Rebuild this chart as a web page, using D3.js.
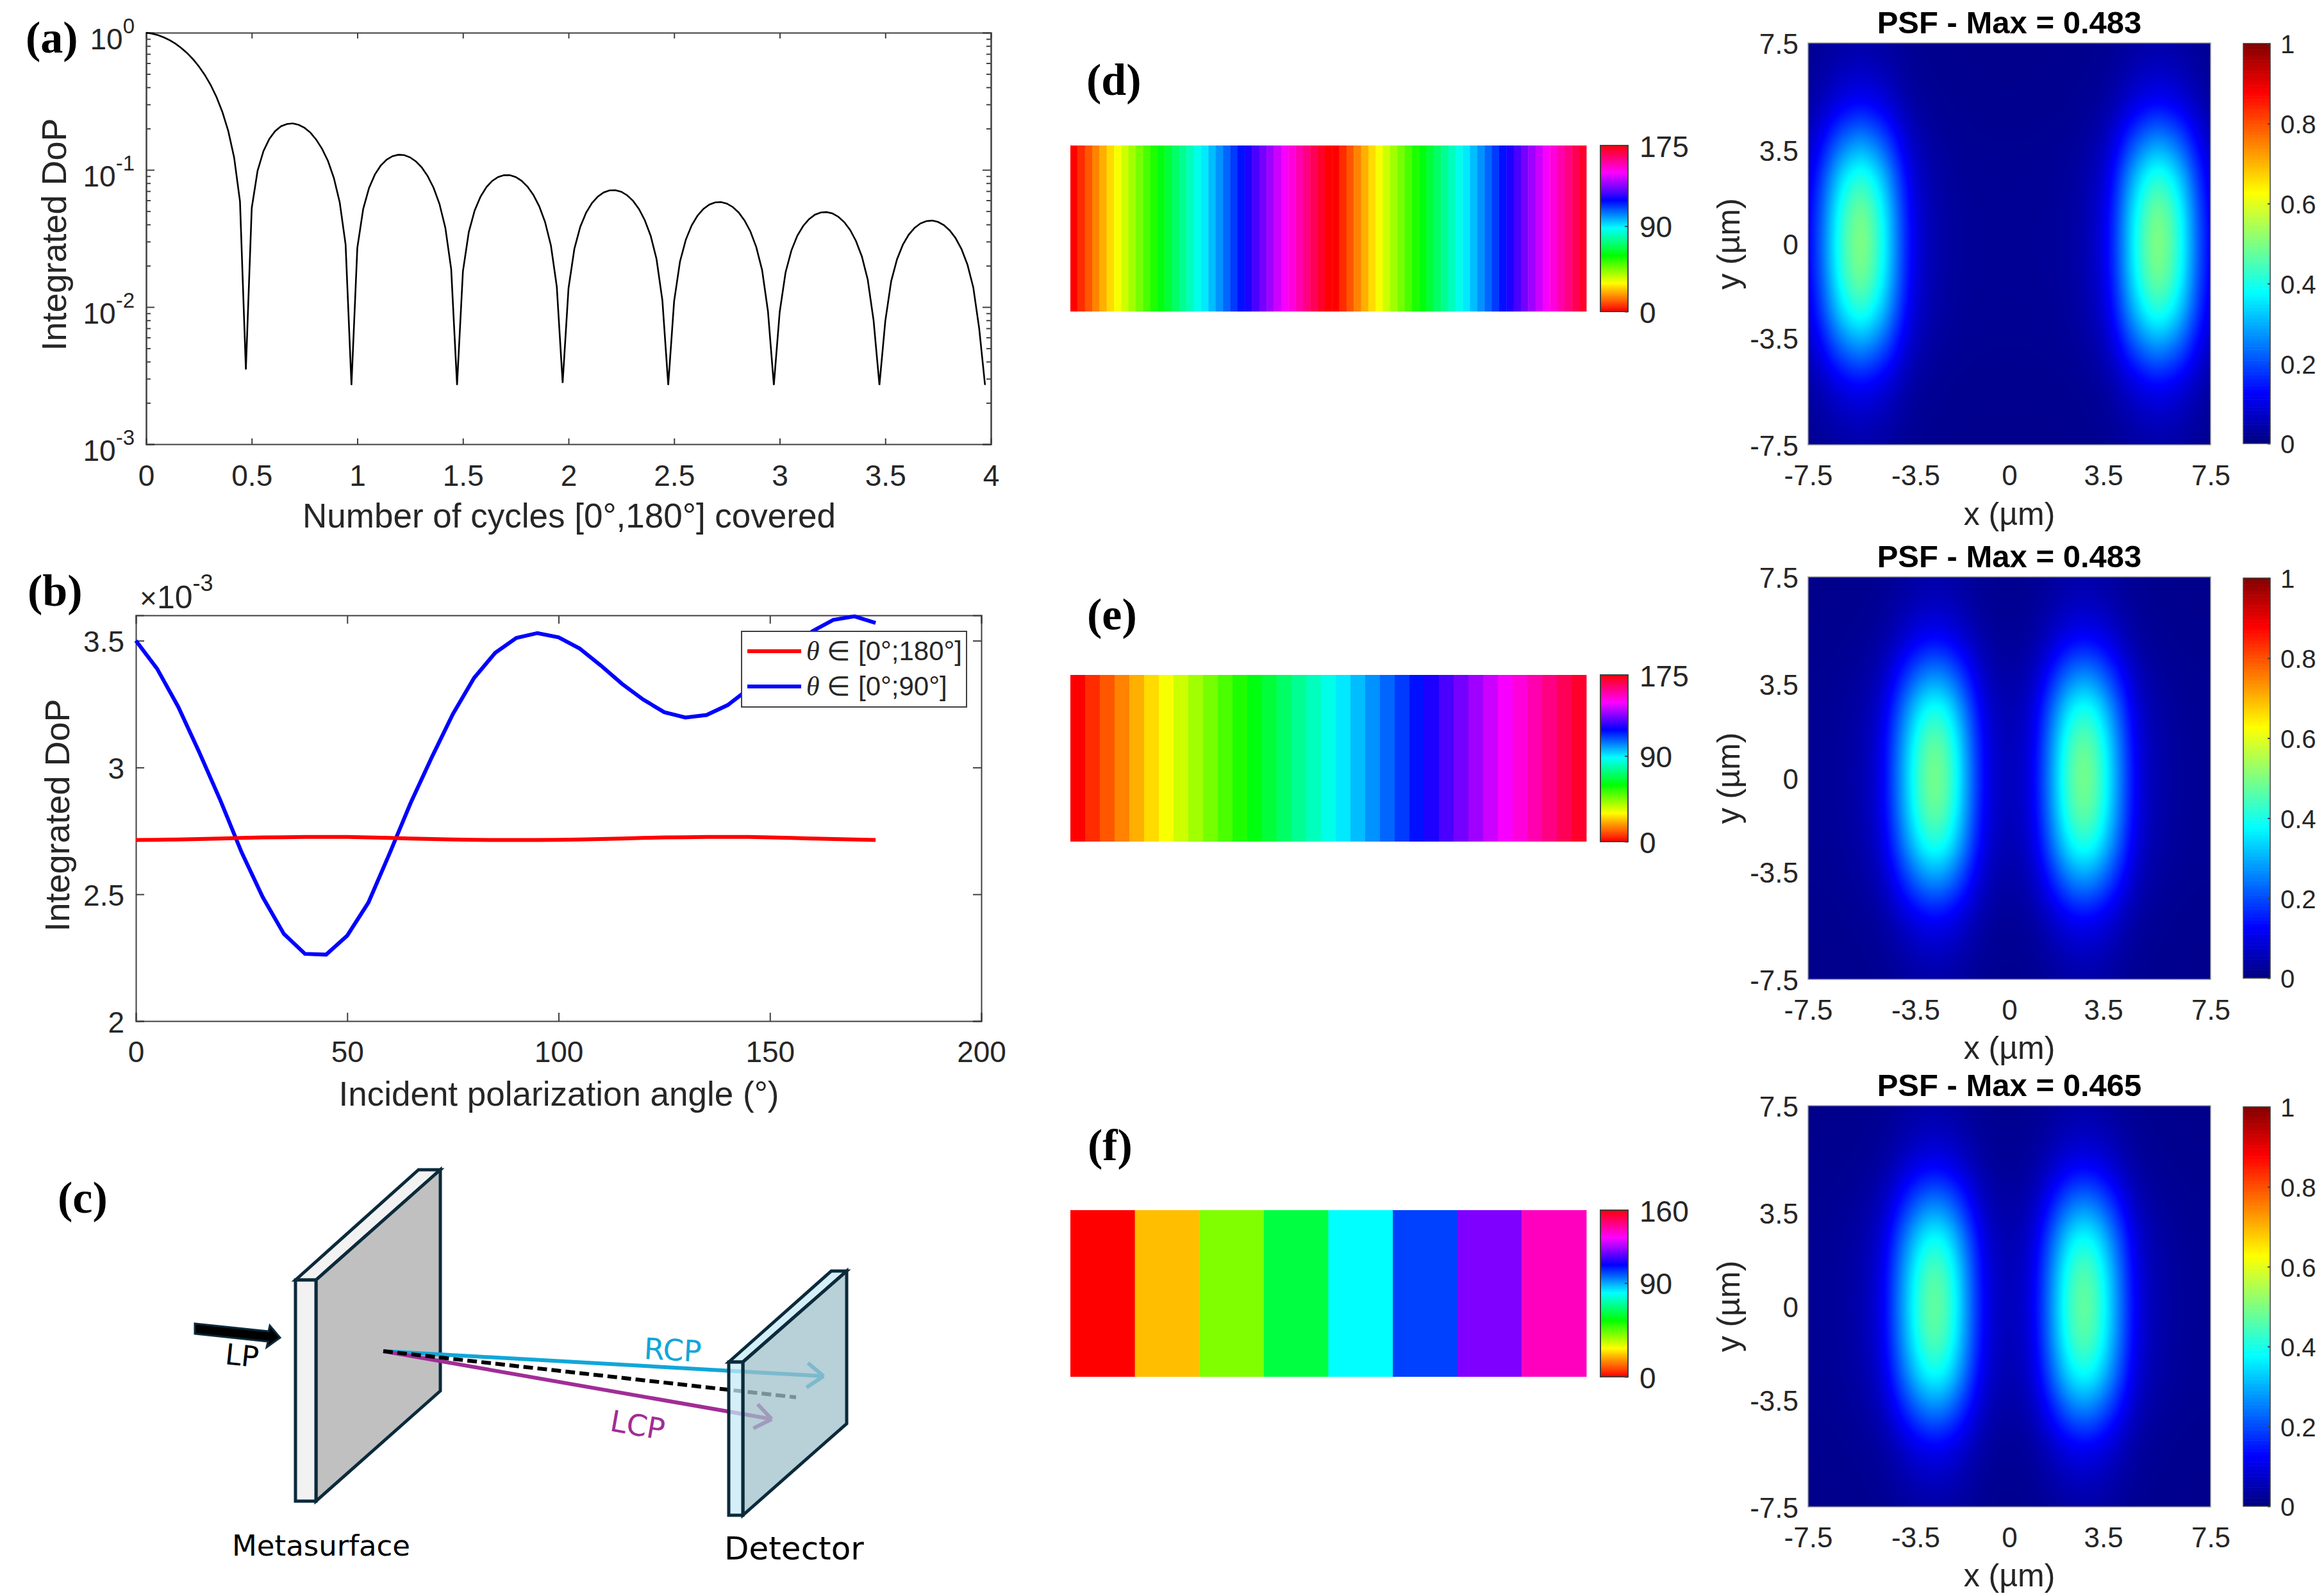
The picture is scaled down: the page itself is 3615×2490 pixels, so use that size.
<!DOCTYPE html>
<html>
<head>
<meta charset="utf-8">
<script src="https://cdn.jsdelivr.net/npm/d3@7"></script>
<style>
  html, body { margin: 0; padding: 0; background: #fff; }
  svg { display: block; }
  text { font-family: "Liberation Sans", Arial, sans-serif; fill: #262626; }
  .panel-label { font-family: "Liberation Serif", serif; font-weight: bold; font-size: 70px; fill: #000; }
  .sketch-label { font-family: "DejaVu Sans", sans-serif; }
</style>
</head>
<body>
<svg id="chart" width="3615" height="2490"></svg>
<script>
// (a) integrated DoP against cycles covered, one sample every 5 degrees
const dopSamples = [
  1, .985, .96, .925, .882, .831, .773, .709, .64, .567, .492, .416, .339, .264, .192, .123, .0588, .0035,
  .0526, .0985, .137, .168, .192, .208, .216, .218, .213, .2025, .187, .166, .142, .116, .0872, .0579, .0286, .0027,
  .027, .0518, .0738, .0926, .1076, .1187, .1258, .1289, .128, .1233, .1151, .1039, .09, .074, .0565, .0379, .0189, .0027,
  .0182, .0352, .0505, .0638, .0748, .0831, .0887, .0915, .0914, .0886, .0832, .0756, .0658, .0544, .0417, .0281, .0141, .0028,
  .0137, .0266, .0384, .0487, .0573, .0639, .0685, .0709, .0711, .0692, .0652, .0594, .0519, .043, .0331, .0224, .0112, .0027,
  .011, .0214, .031, .0394, .0464, .0519, .0558, .0579, .0582, .0567, .0536, .0489, .0428, .0356, .0274, .0186, .0093, .0027,
  .0092, .0179, .0259, .0331, .039, .0437, .0471, .0489, .0492, .0481, .0455, .0416, .0365, .0303, .0234, .0159, .008, .0027,
  .0079, .0154, .0223, .0285, .0337, .0378, .0407, .0423, .0427, .0417, .0395, .0361, .0317, .0264, .0204, .0139, .007, .0027
];
const cycleTicks = [0, 0.5, 1, 1.5, 2, 2.5, 3, 3.5, 4];
const dopDecades = [1, 0.1, 0.01, 0.001];
const dopDecadeExp = ["0", "-1", "-2", "-3"];

// (b) integrated DoP (x 1e-3) against incident polarization angle
const polAngles = [0, 5, 10, 15, 20, 25, 30, 35, 40, 45, 50, 55, 60, 65, 70, 75, 80, 85, 90, 95, 100, 105, 110, 115, 120, 125, 130, 135, 140, 145, 150, 155, 160, 165, 170, 175];
const dop180 = [2.714, 2.715, 2.716, 2.718, 2.72, 2.722, 2.724, 2.725, 2.726, 2.726, 2.726, 2.724, 2.722, 2.72, 2.718, 2.716, 2.715, 2.714, 2.714, 2.714, 2.715, 2.716, 2.718, 2.72, 2.722, 2.724, 2.725, 2.726, 2.726, 2.726, 2.724, 2.722, 2.72, 2.718, 2.716, 2.714];
const dop90 = [3.5, 3.39, 3.24, 3.06, 2.87, 2.666, 2.489, 2.344, 2.265, 2.262, 2.337, 2.467, 2.66, 2.86, 3.04, 3.211, 3.353, 3.452, 3.511, 3.53, 3.513, 3.469, 3.402, 3.33, 3.268, 3.218, 3.197, 3.207, 3.246, 3.31, 3.39, 3.47, 3.537, 3.582, 3.596, 3.57];
const angleTicks = [0, 50, 100, 150, 200];
const dopTicks = [2, 2.5, 3, 3.5];
const legendItems = ["[0°;180°]", "[0°;90°]"];

// (d)(e)(f) orientation maps, degrees per stripe
const orientD = [0, 5, 10, 15, 20, 25, 30, 35, 40, 45, 50, 55, 60, 65, 70, 75, 80, 85, 90, 95, 100, 105, 110, 115, 120, 125, 130, 135, 140, 145, 150, 155, 160, 165, 170, 175,
  0, 5, 10, 15, 20, 25, 30, 35, 40, 45, 50, 55, 60, 65, 70, 75, 80, 85, 90, 95, 100, 105, 110, 115, 120, 125, 130, 135, 140, 145, 150, 155, 160, 165, 170];
const orientE = [0, 5, 10, 15, 20, 25, 30, 35, 40, 45, 50, 55, 60, 65, 70, 75, 80, 85, 90, 95, 100, 105, 110, 115, 120, 125, 130, 135, 140, 145, 150, 155, 160, 165, 170];
const orientF = [0, 20, 40, 60, 80, 100, 120, 140];
const orientTicksE = [0, 90, 175];
const orientTicksF = [0, 90, 160];

// PSF panels: intensity along y = 0 at -7.5, -7, ... 7.5 um
const psfProfileD = [.105, .205, .35, .45, .497, .43, .32, .175, .082, .043, .024, .015, .011, .009, .008, .008, .008, .009, .011, .015, .024, .043, .082, .175, .32, .43, .497, .45, .35, .205, .105];
const psfProfileE = [.008, .009, .012, .02, .034, .063, .14, .266, .39, .475, .47, .377, .24, .116, .058, .045, .058, .116, .24, .377, .47, .475, .39, .266, .14, .063, .034, .02, .012, .009, .008];
const psfProfileF = [.008, .009, .012, .02, .034, .063, .135, .258, .376, .458, .452, .362, .23, .112, .056, .044, .056, .112, .23, .362, .452, .458, .376, .258, .135, .063, .034, .02, .012, .009, .008];
// relative falloff through a lobe along y, same sampling
const psfFalloff = [.06, .08, .11, .15, .2, .28, .38, .49, .6, .71, .81, .88, .94, .98, 1, 1.01, 1, .98, .94, .88, .81, .71, .6, .49, .38, .28, .2, .15, .11, .08, .06];
const psfFloor = 0.012;
const psfTicks = [-7.5, -3.5, 0, 3.5, 7.5];
const psfBarTicks = [0, 0.2, 0.4, 0.6, 0.8, 1];
const psfTitles = ["PSF - Max = 0.483", "PSF - Max = 0.483", "PSF - Max = 0.465"];

const jetStops = [0, 0.125, 0.375, 0.625, 0.875, 1];
const jetColors = ["#000080", "#0000ff", "#00ffff", "#ffff00", "#ff0000", "#800000"];

const svg = d3.select("#chart");
const ink = "#404040";
const jet = d3.scaleLinear().domain(jetStops).range(jetColors).clamp(true);

function panelLabel(txt, x, y) {
  svg.append("text").attr("class", "panel-label").attr("x", x).attr("y", y).text(txt);
}

function dress(g, fontSize) {
  g.select(".domain").attr("stroke", ink).attr("stroke-width", 2);
  g.selectAll(".tick line").attr("stroke", ink).attr("stroke-width", 2);
  g.selectAll(".tick text").attr("fill", "#262626").attr("font-size", fontSize)
    .attr("font-family", '"Liberation Sans", Arial, sans-serif');
  return g;
}

// y tick labels sit a touch lower than the d3 default
function nudge(g) {
  g.selectAll(".tick text").attr("dy", "0.37em");
  return g;
}

function yTitle(txt, x, y, size) {
  svg.append("text").attr("transform", `translate(${x},${y}) rotate(-90)`)
    .attr("text-anchor", "middle").attr("font-size", size).text(txt);
}

function xTitle(txt, x, y, size) {
  svg.append("text").attr("x", x).attr("y", y)
    .attr("text-anchor", "middle").attr("font-size", size).text(txt);
}

// ---- (a)
{
  const box = { l: 228, r: 1546, t: 51, b: 693 };
  const x = d3.scaleLinear().domain([0, 4]).range([box.l, box.r]);
  const y = d3.scaleLog().domain([0.001, 1]).range([box.b, box.t]);
  const minors = [];
  dopDecades.slice(1).forEach(d => [2, 3, 4, 5, 6, 7, 8, 9].forEach(m => minors.push(d * m)));

  dress(svg.append("g").attr("transform", `translate(0,${box.b})`)
    .call(d3.axisBottom(x).tickValues(cycleTicks).tickFormat(d3.format("")).tickSize(-9).tickPadding(32)), 46);
  dress(svg.append("g").attr("transform", `translate(0,${box.t})`)
    .call(d3.axisTop(x).tickValues(cycleTicks).tickFormat("").tickSize(-9)), 46);

  const left = dress(svg.append("g").attr("transform", `translate(${box.l},0)`)
    .call(d3.axisLeft(y).tickValues(dopDecades).tickFormat("").tickSize(-13)), 46);
  left.selectAll(".tick text").attr("x", -18).attr("dy", "0.55em")
    .each(function (d, i) {
      const t = d3.select(this);
      t.append("tspan").text("10");
      t.append("tspan").attr("font-size", 33).attr("dy", "-0.75em").text(dopDecadeExp[i]);
    });
  dress(svg.append("g").attr("transform", `translate(${box.r},0)`)
    .call(d3.axisRight(y).tickValues(dopDecades).tickFormat("").tickSize(-13)), 46);
  dress(svg.append("g").attr("transform", `translate(${box.l},0)`)
    .call(d3.axisLeft(y).tickValues(minors).tickFormat("").tickSize(-7).tickSizeOuter(0)), 46);
  dress(svg.append("g").attr("transform", `translate(${box.r},0)`)
    .call(d3.axisRight(y).tickValues(minors).tickFormat("").tickSize(-7).tickSizeOuter(0)), 46);

  const line = d3.line().x((d, i) => x(i / 36)).y(d => y(d));
  svg.append("path").datum(dopSamples).attr("d", line)
    .attr("fill", "none").attr("stroke", "#000").attr("stroke-width", 2.6);

  xTitle("Number of cycles [0°,180°] covered", 888, 823, 53);
  yTitle("Integrated DoP", 103, 366, 54);
  panelLabel("(a)", 40, 82);
}

// ---- (b)
{
  const box = { l: 212, r: 1531, t: 960, b: 1593 };
  const x = d3.scaleLinear().domain([0, 200]).range([box.l, box.r]);
  const y = d3.scaleLinear().domain([2, 3.6]).range([box.b, box.t]);

  dress(svg.append("g").attr("transform", `translate(0,${box.b})`)
    .call(d3.axisBottom(x).tickValues(angleTicks).tickFormat(d3.format("")).tickSize(-13).tickPadding(31)), 46);
  dress(svg.append("g").attr("transform", `translate(0,${box.t})`)
    .call(d3.axisTop(x).tickValues(angleTicks).tickFormat("").tickSize(-13)), 46);
  nudge(dress(svg.append("g").attr("transform", `translate(${box.l},0)`)
    .call(d3.axisLeft(y).tickValues(dopTicks).tickFormat(d3.format("")).tickSize(-13).tickPadding(18)), 46));
  dress(svg.append("g").attr("transform", `translate(${box.r},0)`)
    .call(d3.axisRight(y).tickValues(dopTicks).tickFormat("").tickSize(-13)), 46);

  const line = d3.line().x(d => x(d[0])).y(d => y(d[1]));
  svg.append("path").datum(d3.zip(polAngles, dop90)).attr("d", line)
    .attr("fill", "none").attr("stroke", "#0000ff").attr("stroke-width", 6);
  svg.append("path").datum(d3.zip(polAngles, dop180)).attr("d", line)
    .attr("fill", "none").attr("stroke", "#ff0000").attr("stroke-width", 6);

  // exponent note above the axis
  const note = svg.append("text").attr("x", 218).attr("y", 949).attr("font-size", 50);
  note.append("tspan").attr("font-size", 46).text("×");
  note.append("tspan").text("10");
  note.append("tspan").attr("font-size", 36).attr("dy", "-0.75em").text("-3");

  svg.append("rect").attr("x", 1157).attr("y", 985).attr("width", 351).attr("height", 118)
    .attr("fill", "#fff").attr("stroke", ink).attr("stroke-width", 2);
  const legendColors = ["#ff0000", "#0000ff"];
  legendItems.forEach((item, i) => {
    const ly = 1016 + i * 55;
    svg.append("line").attr("x1", 1166).attr("x2", 1250).attr("y1", ly).attr("y2", ly)
      .attr("stroke", legendColors[i]).attr("stroke-width", 6);
    const t = svg.append("text").attr("x", 1258).attr("y", ly + 14).attr("font-size", 42);
    t.append("tspan").attr("font-family", '"Liberation Serif", serif').attr("font-style", "italic").text("θ");
    t.append("tspan").text(" ∈ " + item);
  });

  xTitle("Incident polarization angle (°)", 872, 1725, 53);
  yTitle("Integrated DoP", 108, 1272, 54);
  panelLabel("(b)", 43, 945);
}

// ---- (c) sketch, not data: positions below are the drawing itself
{
  const navy = "#0b2a3b";
  const g = svg.append("g");
  const poly = (pts, fill, stroke, op) => g.append("polygon")
    .attr("points", pts.map(p => p.join(",")).join(" "))
    .attr("fill", fill).attr("fill-opacity", op === undefined ? 1 : op)
    .attr("stroke", stroke).attr("stroke-width", 5).attr("stroke-linejoin", "miter");

  poly([[461, 1997], [653, 1825], [687, 1825], [493, 1997]], "#f2f2f2", navy);
  poly([[493, 1997], [687, 1825], [687, 2170], [493, 2342]], "#c0c0c0", navy);
  poly([[461, 1997], [493, 1997], [493, 2342], [461, 2342]], "#f2f2f2", navy);

  const ray = (x2, y2, color, head) => {
    g.append("line").attr("x1", 598).attr("y1", 2108).attr("x2", x2).attr("y2", y2)
      .attr("stroke", color).attr("stroke-width", 6);
    if (!head) return;
    const a = Math.atan2(y2 - 2108, x2 - 598);
    [2.5, -2.5].forEach(s => {
      const da = a + s;
      g.append("line").attr("x1", x2).attr("y1", y2)
        .attr("x2", x2 + 32 * Math.cos(da)).attr("y2", y2 + 32 * Math.sin(da))
        .attr("stroke", color).attr("stroke-width", 6);
    });
  };
  ray(1285, 2147, "#11a6d8", true);
  ray(1204, 2214, "#a02d96", true);
  g.append("line").attr("x1", 598).attr("y1", 2108).attr("x2", 1242).attr("y2", 2180)
    .attr("stroke", "#000").attr("stroke-width", 6).attr("stroke-dasharray", "15 7");

  // detector sits over the rays, so its fills are see-through
  poly([[1137, 2125], [1297, 1983], [1321, 1983], [1159, 2125]], "#c6e9f5", navy, 0.75);
  poly([[1159, 2125], [1321, 1983], [1321, 2221], [1159, 2364]], "#a0c0ca", navy, 0.75);
  poly([[1137, 2125], [1159, 2125], [1159, 2364], [1137, 2364]], "#c6e9f5", navy, 0.75);

  g.append("polygon")
    .attr("points", "304,2065 419,2077 421,2068 437,2087 416,2102 418,2093 304,2081")
    .attr("fill", "#000").attr("stroke", navy).attr("stroke-width", 3);

  const note = (txt, x, y, size, color, rot) => g.append("text").attr("class", "sketch-label")
    .attr("transform", `translate(${x},${y}) rotate(${rot})`)
    .attr("font-size", size).style("fill", color).text(txt);
  note("LP", 350, 2128, 45, "#000", 6);
  note("RCP", 1004, 2120, 46, "#11a6d8", 3);
  note("LCP", 950, 2232, 46, "#a02d96", 10);
  note("Metasurface", 362, 2427, 45, "#000", 0);
  note("Detector", 1130, 2433, 50, "#000", 0);
  panelLabel("(c)", 90, 1892);
}

// ---- (d)(e)(f) stripes with hsv colour bars
function orientPanel(values, domainMax, ticks, top, bottom) {
  const x = d3.scaleBand().domain(d3.range(values.length)).range([1670, 2475]);
  const hue = d3.scaleLinear().domain([0, domainMax]).range([0, 360]);
  svg.append("g").selectAll("rect").data(values).join("rect")
    .attr("x", (d, i) => x(i)).attr("y", top)
    .attr("width", x.bandwidth() + 0.4).attr("height", bottom - top)
    .attr("fill", d => d3.hsl(hue(d), 1, 0.5));

  const bar = d3.scaleLinear().domain([0, domainMax]).range([bottom, top]);
  const levels = d3.range(0, domainMax, domainMax / 128);
  const h = (bottom - top) / 128 + 0.6;
  svg.append("g").selectAll("rect").data(levels).join("rect")
    .attr("x", 2497).attr("width", 43)
    .attr("y", d => bar(d) - h).attr("height", h)
    .attr("fill", d => d3.hsl(hue(d), 1, 0.5));
  svg.append("rect").attr("x", 2497).attr("y", top).attr("width", 43).attr("height", bottom - top)
    .attr("fill", "none").attr("stroke", ink).attr("stroke-width", 2);
  const ax = svg.append("g").attr("transform", "translate(2540,0)")
    .call(d3.axisRight(bar).tickValues(ticks).tickFormat(d3.format("")).tickSize(-5).tickSizeOuter(0).tickPadding(18));
  nudge(dress(ax, 46)).select(".domain").remove();
}
orientPanel(orientD, 175, orientTicksE, 227, 486);
orientPanel(orientE, 175, orientTicksE, 1053, 1313);
orientPanel(orientF, 160, orientTicksF, 1888, 2148);
panelLabel("(d)", 1695, 148);
panelLabel("(e)", 1696, 982);
panelLabel("(f)", 1697, 1810);

// ---- PSF panels
function psfPanel(profile, title, box) {
  const x = d3.scaleLinear().domain([-7.5, 7.5]).range([2821, 3449]);
  const y = d3.scaleLinear().domain([-7.5, 7.5]).range([box.b, box.t]);
  const alongX = d3.interpolateBasis(profile);
  const alongY = d3.interpolateBasis(psfFalloff);
  const tx = d3.scaleLinear().domain(x.range()).range([0, 1]);
  const ty = d3.scaleLinear().domain([box.t, box.b]).range([0, 1]);

  // raster the grid at screen size, the same way shading interp would
  const w = 628, h = Math.round(box.b - box.t);
  const cv = document.createElement("canvas");
  cv.width = w; cv.height = h;
  const ctx = cv.getContext("2d");
  const img = ctx.createImageData(w, h);
  for (let j = 0; j < h; j++) {
    const fy = alongY(ty(box.t + j + 0.5));
    for (let i = 0; i < w; i++) {
      const c = d3.rgb(jet(psfFloor + alongX(tx(2821 + i + 0.5)) * fy));
      const k = (j * w + i) * 4;
      img.data[k] = c.r; img.data[k + 1] = c.g; img.data[k + 2] = c.b; img.data[k + 3] = 255;
    }
  }
  ctx.putImageData(img, 0, 0);
  svg.append("image").attr("x", 2821).attr("y", box.t).attr("width", w).attr("height", h)
    .attr("preserveAspectRatio", "none").attr("href", cv.toDataURL());
  svg.append("rect").attr("x", 2821).attr("y", box.t).attr("width", w).attr("height", h)
    .attr("fill", "none").attr("stroke", "#9a9a9a").attr("stroke-width", 1.5);

  const fmt = d => String(d);
  dress(svg.append("g").attr("transform", `translate(0,${box.b})`)
    .call(d3.axisBottom(x).tickValues(psfTicks).tickFormat(fmt).tickSize(0).tickPadding(32)), 44)
    .select(".domain").remove();
  nudge(dress(svg.append("g").attr("transform", "translate(2821,0)")
    .call(d3.axisLeft(y).tickValues(psfTicks).tickFormat(fmt).tickSize(0).tickPadding(15)), 44))
    .select(".domain").remove();

  const bar = d3.scaleLinear().domain([0, 1]).range([box.cb, box.ct]);
  const levels = d3.range(0, 1, 1 / 256);
  const bh = (box.cb - box.ct) / 256 + 0.6;
  svg.append("g").selectAll("rect").data(levels).join("rect")
    .attr("x", 3500).attr("width", 42)
    .attr("y", d => bar(d) - bh).attr("height", bh)
    .attr("fill", d => jet(d));
  svg.append("rect").attr("x", 3500).attr("y", box.ct).attr("width", 42).attr("height", box.cb - box.ct)
    .attr("fill", "none").attr("stroke", ink).attr("stroke-width", 1.5);
  nudge(dress(svg.append("g").attr("transform", "translate(3542,0)")
    .call(d3.axisRight(bar).tickValues(psfBarTicks).tickFormat(fmt).tickSize(-4).tickSizeOuter(0).tickPadding(16)), 40))
    .select(".domain").remove();

  svg.append("text").attr("x", 3135).attr("y", box.titleY).attr("text-anchor", "middle")
    .attr("font-size", 49).attr("font-weight", "bold").style("fill", "#000").text(title);
  xTitle("x (µm)", 3135, box.labelY, 50);
  yTitle("y (µm)", 2714, (box.t + box.b) / 2, 50);
}
psfPanel(psfProfileD, psfTitles[0], { t: 67, b: 694, ct: 68, cb: 692, titleY: 52, labelY: 819 });
psfPanel(psfProfileE, psfTitles[1], { t: 900, b: 1528, ct: 902, cb: 1526, titleY: 885, labelY: 1652 });
psfPanel(psfProfileF, psfTitles[2], { t: 1725, b: 2351, ct: 1727, cb: 2350, titleY: 1710, labelY: 2475 });
</script>
</body>
</html>
